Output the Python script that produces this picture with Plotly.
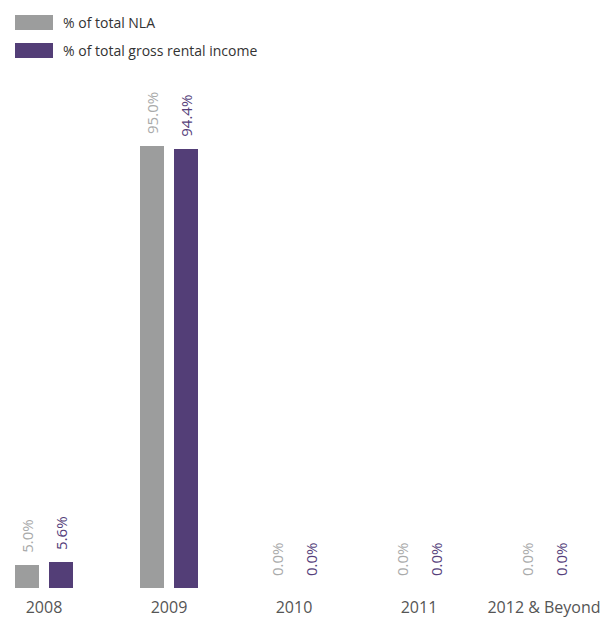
import plotly.graph_objects as go

# Lease expiry profile by year
years = ["2008", "2009", "2010", "2011", "2012 & Beyond"]
nla_pct = [5.0, 95.0, 0.0, 0.0, 0.0]
income_pct = [5.6, 94.4, 0.0, 0.0, 0.0]
series_names = ["% of total NLA", "% of total gross rental income"]

GRAY = "#9c9d9d"
PURPLE = "#533e77"
GRAY_TXT = "#a9aaaa"
PURPLE_TXT = "#563f7b"
FONT = "Open Sans"

W, H = 607, 620
M_T, M_B = 80, 32
plot_h = H - M_T - M_B
BAR_W = 0.192

fig = go.Figure()
for vals, name, col, tcol, off in [
    (nla_pct, series_names[0], GRAY, GRAY_TXT, -0.232),
    (income_pct, series_names[1], PURPLE, PURPLE_TXT, 0.04),
]:
    fig.add_trace(go.Bar(
        x=years, y=vals, name=name,
        marker=dict(color=col, line=dict(width=0)),
        width=BAR_W, offset=off,
        showlegend=False,
    ))
    # rotated value labels above each bar
    for i, v in enumerate(vals):
        fig.add_annotation(
            x=i + off + BAR_W / 2, y=v, xref="x", yref="y", yshift=10,
            text=f"{v:.1f}%", textangle=-90, showarrow=False,
            xanchor="center", yanchor="bottom",
            font=dict(family=FONT, size=15, color=tcol),
        )

# legend drawn as swatches + labels in the top-left corner
def py(p):
    return (H - M_B - p) / plot_h

for i, (name, col) in enumerate(zip(series_names, [GRAY, PURPLE])):
    y0 = 15 + i * 28
    fig.add_shape(type="rect", xref="paper", yref="paper",
                  x0=15 / W, x1=53 / W, y0=py(y0 + 15), y1=py(y0),
                  fillcolor=col, line=dict(width=0))
    fig.add_annotation(text=name, xref="paper", yref="paper",
                       x=61 / W, y=py(y0 + 7.5), xanchor="left", yanchor="middle",
                       showarrow=False,
                       font=dict(family=FONT, size=14, color="#333333"))

fig.update_layout(
    width=W, height=H,
    margin=dict(l=0, r=0, t=M_T, b=M_B),
    plot_bgcolor="white", paper_bgcolor="white",
    xaxis=dict(type="category", range=[-0.352, 4.504], showgrid=False,
               zeroline=False, showline=False, ticks="", ticklabelstandoff=8,
               tickfont=dict(family=FONT, size=16, color="#555555")),
    yaxis=dict(range=[0, plot_h / 4.653], visible=False, showgrid=False,
               zeroline=False),
    bargap=0,
)

fig.write_html("out.html")
